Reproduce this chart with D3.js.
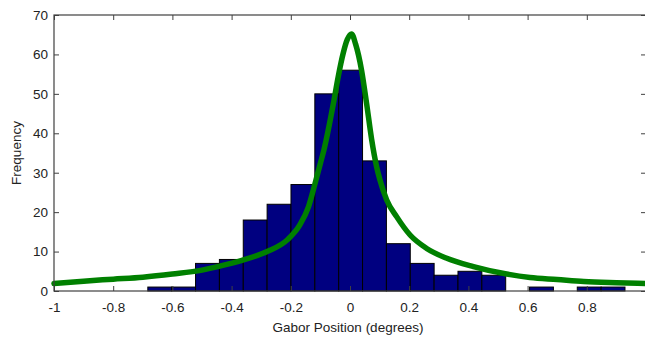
<!DOCTYPE html>
<html>
<head>
<meta charset="utf-8">
<script src="https://cdn.jsdelivr.net/npm/d3@7"></script>
<style>
  html, body { margin: 0; padding: 0; background: #fff; }
  svg { display: block; font-family: "Liberation Sans", Arial, Helvetica, sans-serif; }
</style>
</head>
<body>
<svg id="chart" width="645" height="337"></svg>
<script>
// Histogram bins (20 equal-width bins between the min and max positions)
const binStart = -0.683;
const binWidth = 0.0806;
const binCounts = [1, 1, 7, 8, 18, 22, 27, 50, 56, 33, 12, 7, 4, 5, 4, 0, 1, 0, 1, 1];

// Fitted density curve, sampled positions and frequencies
const fitX = [-1, -0.9, -0.8, -0.7, -0.6, -0.5, -0.44, -0.36, -0.28, -0.21, -0.17, -0.14, -0.118, -0.10, -0.088,
              -0.056, -0.040, -0.023, -0.009, 0.005, 0.019, 0.039, 0.056, 0.073, 0.09, 0.101, 0.124, 0.158,
              0.203, 0.259, 0.327, 0.417, 0.529, 0.608, 0.7, 0.79, 0.9, 1.0];
const fitY = [1.9, 2.5, 3.0, 3.5, 4.3, 5.3, 6.3, 7.9, 10.0, 13.1, 16.7, 21.4, 27.3, 32.4, 35.8,
              47.6, 54.3, 60.3, 63.8, 65.2, 62.6, 56.0, 47.6, 38.5, 31.5, 28.2, 23.1, 18.8,
              14.2, 10.8, 8.3, 6.2, 4.3, 3.4, 2.9, 2.4, 2.1, 1.9];

// Axis ticks
const xTicks = [-1, -0.8, -0.6, -0.4, -0.2, 0, 0.2, 0.4, 0.6, 0.8];
const yTicks = [0, 10, 20, 30, 40, 50, 60, 70];
const xTitle = "Gabor Position (degrees)";
const yTitle = "Frequency";

const svg = d3.select("#chart");
const L = 54, R = 646, T = 15, B = 291;
const fontSize = 13.5;
const textColor = "#222";

const x = d3.scaleLinear().domain([-1, 1]).range([L, R]);
const y = d3.scaleLinear().domain([0, 70]).range([B, T]);

const bins = binCounts.map((c, i) => ({
  x0: binStart + i * binWidth,
  x1: binStart + (i + 1) * binWidth,
  count: c
}));

const plot = svg.append("g");

// Bars
plot.selectAll("rect.bar")
  .data(bins.filter(d => d.count > 0))
  .join("rect")
  .attr("class", "bar")
  .attr("x", d => x(d.x0))
  .attr("y", d => y(d.count))
  .attr("width", d => x(d.x1) - x(d.x0))
  .attr("height", d => y(0) - y(d.count))
  .attr("fill", "#000080")
  .attr("stroke", "#000")
  .attr("stroke-width", 1);

// Fitted curve
const pts = fitX.map((v, i) => [v, fitY[i]]);
plot.append("path")
  .datum(pts)
  .attr("fill", "none")
  .attr("stroke", "#008000")
  .attr("stroke-width", 5.5)
  .attr("stroke-linejoin", "round")
  .attr("stroke-linecap", "round")
  .attr("d", d3.line().x(d => x(d[0])).y(d => y(d[1])).curve(d3.curveMonotoneX));

// Axes (box with inward ticks on all sides)
const axisColor = "#404040";
const tickLen = 5;
const fmt = d => String(d); // plain hyphen-minus

const gx = svg.append("g").attr("transform", `translate(0,${B})`)
  .call(d3.axisBottom(x).tickValues(xTicks).tickSizeInner(-tickLen).tickSizeOuter(0).tickFormat(fmt));
gx.select(".domain").remove();
gx.selectAll(".tick line").attr("stroke", axisColor);
gx.selectAll(".tick text").attr("y", 11).attr("font-size", fontSize).attr("fill", textColor)
  .attr("font-family", "Liberation Sans, Arial, sans-serif");

const gxt = svg.append("g").attr("transform", `translate(0,${T})`)
  .call(d3.axisTop(x).tickValues(xTicks).tickSizeInner(-tickLen).tickSizeOuter(0).tickFormat(""));
gxt.select(".domain").remove();
gxt.selectAll(".tick line").attr("stroke", axisColor);

const gy = svg.append("g").attr("transform", `translate(${L},0)`)
  .call(d3.axisLeft(y).tickValues(yTicks).tickSizeInner(-tickLen).tickSizeOuter(0).tickFormat(fmt));
gy.select(".domain").remove();
gy.selectAll(".tick line").attr("stroke", axisColor);
gy.selectAll(".tick text").attr("x", -6).attr("font-size", fontSize).attr("fill", textColor)
  .attr("font-family", "Liberation Sans, Arial, sans-serif");

const gyr = svg.append("g").attr("transform", `translate(${R},0)`)
  .call(d3.axisRight(y).tickValues(yTicks).tickSizeInner(-tickLen).tickSizeOuter(0).tickFormat(""));
gyr.select(".domain").remove();
gyr.selectAll(".tick line").attr("stroke", axisColor);

svg.append("rect")
  .attr("x", L).attr("y", T).attr("width", R - L).attr("height", B - T)
  .attr("fill", "none").attr("stroke", axisColor).attr("stroke-width", 1.2);

// Titles
svg.append("text")
  .attr("x", 348).attr("y", 332)
  .attr("text-anchor", "middle").attr("font-size", fontSize).attr("fill", textColor)
  .text(xTitle);

svg.append("text")
  .attr("transform", `translate(21,${(T + B) / 2}) rotate(-90)`)
  .attr("text-anchor", "middle").attr("font-size", fontSize).attr("fill", textColor)
  .text(yTitle);
</script>
</body>
</html>
